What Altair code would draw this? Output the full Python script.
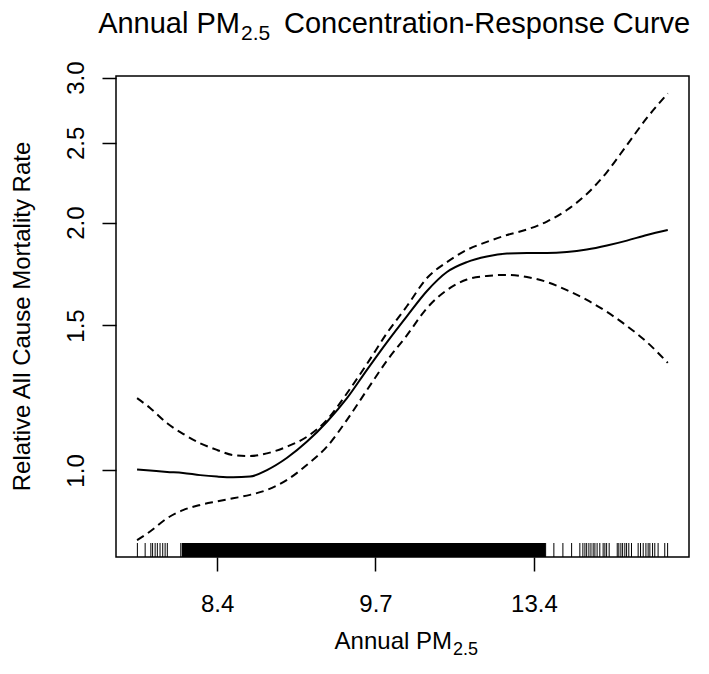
import altair as alt
import pandas as pd

# ---- data ----
# x is an internal, evenly spaced exposure index; tick labels give PM2.5 values
x_u = [0.495, 0.577, 0.685, 0.785, 0.893, 1.0, 1.101, 1.208, 1.315, 1.442, 1.568,
       1.694, 1.820, 1.946, 2.073, 2.199, 2.325, 2.451, 2.577, 2.703, 2.830, 2.956,
       3.082, 3.208, 3.334, 3.461, 3.587, 3.713, 3.845]
fit = [1.003, 1.000, 0.996, 0.993, 0.987, 0.983, 0.981, 0.983, 1.001, 1.036, 1.084,
       1.146, 1.224, 1.325, 1.432, 1.540, 1.652, 1.742, 1.791, 1.819, 1.834, 1.837,
       1.837, 1.842, 1.855, 1.876, 1.902, 1.932, 1.959]
upper = [1.224, 1.191, 1.141, 1.108, 1.079, 1.059, 1.044, 1.041, 1.049, 1.069, 1.099,
         1.152, 1.241, 1.347, 1.469, 1.584, 1.713, 1.791, 1.853, 1.895, 1.932, 1.962,
         2.006, 2.072, 2.167, 2.304, 2.485, 2.680, 2.871]
lower = [0.823, 0.843, 0.875, 0.895, 0.908, 0.917, 0.925, 0.934, 0.947, 0.974, 1.016,
         1.069, 1.152, 1.252, 1.360, 1.460, 1.575, 1.656, 1.706, 1.723, 1.728, 1.718,
         1.694, 1.656, 1.611, 1.558, 1.498, 1.432, 1.351]

rug_left = [0.497, 0.546, 0.582, 0.593, 0.609, 0.623, 0.640, 0.657, 0.672, 0.686, 0.771]
rug_dense = [0.777, 3.073]
rug_right = [3.074, 3.126, 3.183, 3.238, 3.290, 3.309, 3.322, 3.333, 3.347, 3.360,
             3.374, 3.385, 3.399, 3.416, 3.437, 3.448, 3.459, 3.475, 3.526, 3.536,
             3.549, 3.560, 3.574, 3.585, 3.599, 3.616, 3.658, 3.673, 3.690, 3.707,
             3.721, 3.732, 3.749, 3.763, 3.784, 3.826, 3.844]

x_tick_pos = [1, 2, 3]
x_tick_labels = ["8.4", "9.7", "13.4"]
y_ticks = [1.0, 1.5, 2.0, 2.5, 3.0]

# ---- layout ----
W, H = 573, 481
FONT = "Liberation Sans"
RUG = 14

n = len(x_u)
curves = pd.DataFrame({
    "u": x_u * 3,
    "rr": fit + upper + lower,
    "series": ["fit"] * n + ["upper"] * n + ["lower"] * n,
})
rugs = pd.DataFrame({"u": rug_left + rug_right})
band = pd.DataFrame({"lo": [rug_dense[0]], "hi": [rug_dense[1]]})

xscale = alt.Scale(domain=[0.362, 3.979], nice=False, zero=False)
yscale = alt.Scale(type="log", domain=[0.785, 3.014], nice=False, zero=False)

label_expr = " : ".join(
    f"datum.value == {p} ? '{l}'" for p, l in zip(x_tick_pos, x_tick_labels)
) + " : ''"

xaxis = alt.Axis(values=x_tick_pos, labelExpr=label_expr, title=None, grid=False,
                 domain=False, tickSize=14, tickWidth=1.5, tickColor="black",
                 labelFont=FONT, labelFontSize=24, labelColor="black", labelPadding=21)
yaxis = alt.Axis(values=y_ticks, format=".1f", title=None, grid=False, domain=False,
                 tickSize=14, tickWidth=1.5, tickColor="black", labelFont=FONT,
                 labelFontSize=24, labelColor="black", labelAngle=270,
                 labelAlign="center", labelBaseline="bottom", labelPadding=14)

X = alt.X("u:Q", scale=xscale, axis=xaxis)
Y = alt.Y("rr:Q", scale=yscale, axis=yaxis)

solid = alt.Chart(curves).transform_filter(alt.datum.series == "fit").mark_line(
    color="black", strokeWidth=2, interpolate="monotone").encode(x=X, y=Y)

dashed = alt.Chart(curves).transform_filter(alt.datum.series != "fit").mark_line(
    color="black", strokeWidth=2, strokeDash=[8, 5], interpolate="monotone"
).encode(x=X, y=Y, detail="series:N")

rug_ticks = alt.Chart(rugs).mark_rule(color="black", strokeWidth=1).encode(
    x=X, y=alt.value(H - RUG), y2=alt.value(H))

rug_band = alt.Chart(band).mark_rect(color="black").encode(
    x=alt.X("lo:Q", scale=xscale, axis=xaxis), x2="hi:Q",
    y=alt.value(H - RUG), y2=alt.value(H))

one = alt.Data(values=[{"k": 1}])


def txt(s, x, y, size, align="left", angle=0, baseline="alphabetic"):
    return alt.Chart(one).mark_text(
        text=s, font=FONT, fontSize=size, color="black", align=align,
        baseline=baseline, angle=angle
    ).encode(x=alt.value(x), y=alt.value(y))


title_parts = [
    txt("Annual PM", 124, -43, 29, align="right"),
    txt("2.5", 125, -36, 21),
    txt("Concentration-Response Curve", 168, -43, 29),
]
xtitle_parts = [
    txt("Annual PM", 336, 573, 24, align="right"),
    txt("2.5", 337, 579, 18),
]
ytitle = txt("Relative All Cause Mortality Rate", -93, H / 2, 24, align="center",
             angle=270, baseline="middle")

chart = alt.layer(
    rug_band, rug_ticks, dashed, solid, *title_parts, *xtitle_parts, ytitle
).properties(
    width=W, height=H,
    padding={"left": 108, "top": 68, "right": 12, "bottom": 105},
    autosize=alt.AutoSizeParams(type="none"),
).configure_view(stroke="black", strokeWidth=1.5)

chart.save("out.html", embed_options={"renderer": "svg", "actions": False})
